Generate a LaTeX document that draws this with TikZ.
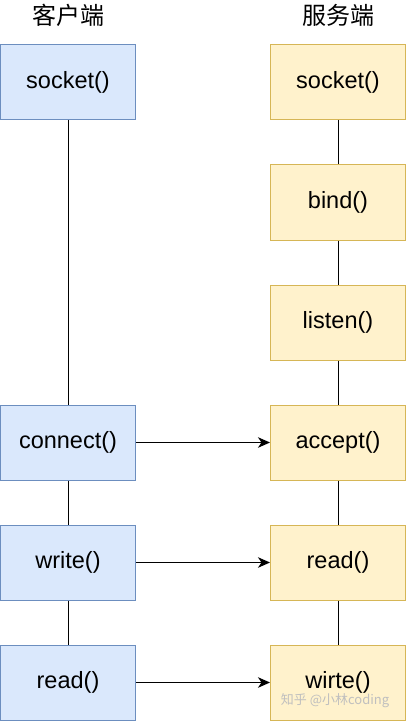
\documentclass[tikz,border=0pt]{standalone}
\usepackage{fontspec}
\setmainfont{Liberation Sans}
\newfontfamily\cjk{Noto Sans CJK SC}
\usetikzlibrary{arrows.meta}

\definecolor{clientfill}{HTML}{DAE8FC}
\definecolor{clientline}{HTML}{6C8EBF}
\definecolor{serverfill}{HTML}{FFF2CC}
\definecolor{serverline}{HTML}{D6B656}

\begin{document}
\begin{tikzpicture}[x=1pt, y=-1pt, every node/.style={font=\fontsize{23.5}{27}\selectfont},
                    box/.style={rectangle, minimum width=135pt, minimum height=75pt,
                            inner sep=0pt, line width=1pt},
                    client/.style={box, draw=clientline, fill=clientfill},
                    server/.style={box, draw=serverline, fill=serverfill},
                    call/.style={line width=1.2pt, -{Stealth[length=12pt, width=10.5pt, inset=3.5pt]}}]
                \useasboundingbox (0,0) rectangle (407,722);

                \node[font=\cjk\fontsize{24}{28}\selectfont] (HC) at (68,15) {客户端};
                \node[font=\cjk\fontsize{24}{28}\selectfont] (HS) at (338,15) {服务端};

                \node[client] (C1) at (68,82.5) {socket()};
                \node[client] (C2) at (68,442.5) {connect()};
                \node[client] (C3) at (68,562.5) {write()};
                \node[client] (C4) at (68,682.5) {read()};

                \foreach \i/\t in {1/socket(),2/bind(),3/listen(),4/accept(),5/read(),6/wirte()} {
                        \node[server] (S\i) at (338,{82.5+120*(\i-1)}) {\t};
                    }

                \foreach \i/\j in {1/2,2/3,3/4} {
                        \draw[line width=1pt] (C\i) -- (C\j);
                }
                \foreach \i/\j in {1/2,2/3,3/4,4/5,5/6} {
                        \draw[line width=1pt] (S\i) -- (S\j);
                }

                \draw[call] (C2) -- (S4);
                \draw[call] (C3) -- (S5);
                \draw[call] (C4) -- (S6);

                \node[font=\cjk\fontsize{13}{15}\selectfont, text=black!25] (WM) at (335,701) {知乎 @小林coding};
            \end{tikzpicture}
\end{document}
